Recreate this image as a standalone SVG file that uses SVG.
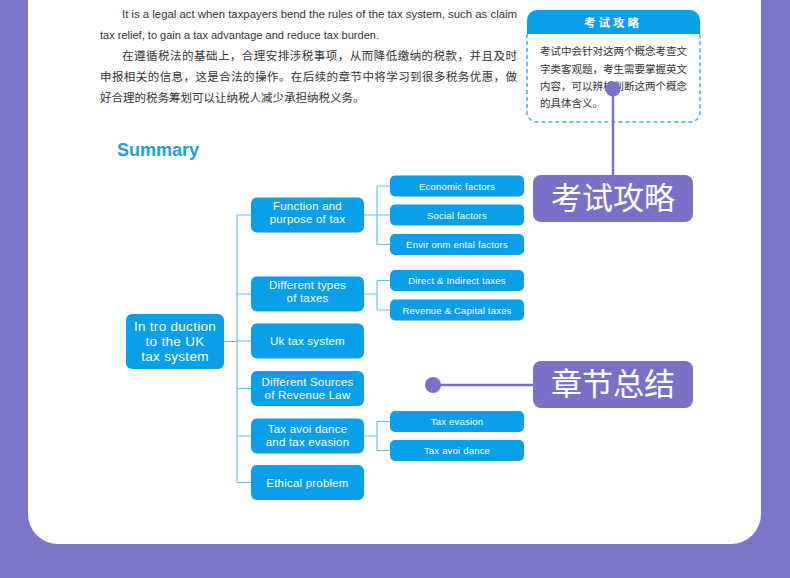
<svg xmlns="http://www.w3.org/2000/svg" width="790" height="578" viewBox="0 0 790 578">
<style>
.para{font-family:"Liberation Sans","Noto Sans CJK SC",sans-serif;font-size:11.5px;fill:#333}
.cn{font-family:"Noto Sans CJK SC",sans-serif;font-size:11.5px;fill:#333}
.l1{fill:#0AA0E9}
.t1{font-family:"Liberation Sans",sans-serif;font-size:11.5px;fill:#fff;text-anchor:middle;letter-spacing:0.2px}
.t2{font-family:"Liberation Sans",sans-serif;font-size:9.5px;fill:#fff;text-anchor:middle;letter-spacing:0.2px}
.conn{stroke:#5EC3F2;stroke-width:1.2;fill:none}
.pbox{fill:#7A70C8}
.ptext{font-family:"Noto Sans CJK SC",sans-serif;font-size:31px;font-weight:normal;fill:#fff;text-anchor:middle}
</style>
<rect x="0" y="0" width="790" height="578" fill="#7B76C9"/>
<rect x="28" y="-40" width="733" height="584" rx="30" fill="#fff"/>

<g id="paragraph">
<text class="para" x="122" y="18" textLength="395" lengthAdjust="spacingAndGlyphs">It is a legal act when taxpayers bend the rules of the tax system, such as claim</text>
<text class="para" x="100" y="39" textLength="279" lengthAdjust="spacingAndGlyphs">tax relief, to gain a tax advantage and reduce tax burden.</text>
<text class="cn" x="122" y="60" textLength="395">在遵循税法的基础上，合理安排涉税事项，从而降低缴纳的税款，并且及时</text>
<text class="cn" x="100" y="81" textLength="417">申报相关的信息，这是合法的操作。在后续的章节中将学习到很多税务优惠，做</text>
<text class="cn" x="100" y="102">好合理的税务筹划可以让纳税人减少承担纳税义务。</text>
</g>

<g id="callout">
<path d="M527,34 V112 a10,10 0 0 0 10,10 H690 a10,10 0 0 0 10,-10 V34" fill="#fff" stroke="#3BB0E8" stroke-width="1.5" stroke-dasharray="4,3"/>
<path d="M527,34 V20 a10,10 0 0 1 10,-10 H690 a10,10 0 0 1 10,10 V34 Z" fill="#0AA0E9"/>
<text x="613" y="27" font-family="Noto Sans CJK SC,sans-serif" font-size="11.5" font-weight="bold" fill="#fff" text-anchor="middle" letter-spacing="3">考试攻略</text>
<g font-family="Noto Sans CJK SC,sans-serif" font-size="10.5" fill="#333">
<text x="540" y="55" textLength="147">考试中会针对这两个概念考查文</text>
<text x="540" y="73" textLength="147">字类客观题，考生需要掌握英文</text>
<text x="540" y="90" textLength="147">内容，可以辨析判断这两个概念</text>
<text x="540" y="107">的具体含义。</text>
</g>
</g>

<g id="label-kaoshi">
<line x1="613" y1="89" x2="613" y2="176" stroke="#7A70C8" stroke-width="2.5"/>
<circle cx="613" cy="89" r="7.5" fill="#7A70C8"/>
<rect class="pbox" x="533" y="175" width="160" height="47" rx="8"/>
<text class="ptext" x="613" y="209">考试攻略</text>
</g>

<g id="label-zhangjie">
<line x1="433" y1="385" x2="534" y2="385" stroke="#7A70C8" stroke-width="2.5"/>
<circle cx="433" cy="385" r="8" fill="#7A70C8"/>
<rect class="pbox" x="533" y="361" width="160" height="47" rx="8"/>
<text class="ptext" x="613" y="395">章节总结</text>
</g>

<text x="117" y="156" font-family="Liberation Sans,sans-serif" font-size="18" font-weight="bold" fill="#1A9FE6">Summary</text>

<g id="connectors">
<path class="conn" d="M224,341.5 H237 M237,215 V482.5 M237,215 H251 M237,294 H251 M237,341 H251 M237,388.5 H251 M237,436 H251 M237,482.5 H251"/>
<path class="conn" d="M364,215 H377 M377,186 V244.5 M377,186 H390 M377,215 H390 M377,244.5 H390"/>
<path class="conn" d="M364,294 H377 M377,280.5 V310 M377,280.5 H390 M377,310 H390"/>
<path class="conn" d="M364,436 H377 M377,421.5 V450.5 M377,421.5 H390 M377,450.5 H390"/>
</g>

<g id="root">
<rect class="l1" x="126" y="314" width="98" height="55" rx="6"/>
<text x="175" y="331" font-family="Liberation Sans,sans-serif" font-size="13.5" fill="#fff" text-anchor="middle" letter-spacing="0.3">In tro duction</text>
<text x="175" y="346" font-family="Liberation Sans,sans-serif" font-size="13.5" fill="#fff" text-anchor="middle" letter-spacing="0.3">to the UK</text>
<text x="175" y="361" font-family="Liberation Sans,sans-serif" font-size="13.5" fill="#fff" text-anchor="middle" letter-spacing="0.3">tax system</text>
</g>

<g id="n-function">
<rect class="l1" x="251" y="197.5" width="113" height="35" rx="6"/>
<text class="t1" x="307.5" y="210">Function and</text>
<text class="t1" x="307.5" y="223">purpose of tax</text>
</g>
<g id="n-types">
<rect class="l1" x="251" y="276.5" width="113" height="35" rx="6"/>
<text class="t1" x="307.5" y="289">Different types</text>
<text class="t1" x="307.5" y="302">of taxes</text>
</g>
<g id="n-uk">
<rect class="l1" x="251" y="323.5" width="113" height="35" rx="6"/>
<text class="t1" x="307.5" y="345">Uk tax system</text>
</g>
<g id="n-sources">
<rect class="l1" x="251" y="371" width="113" height="35" rx="6"/>
<text class="t1" x="307.5" y="386">Different Sources</text>
<text class="t1" x="307.5" y="399">of  Revenue Law</text>
</g>
<g id="n-avoid">
<rect class="l1" x="251" y="418.5" width="113" height="35" rx="6"/>
<text class="t1" x="307.5" y="433">Tax avoi dance</text>
<text class="t1" x="307.5" y="446">and tax evasion</text>
</g>
<g id="n-ethical">
<rect class="l1" x="251" y="465" width="113" height="35" rx="6"/>
<text class="t1" x="307.5" y="487">Ethical problem</text>
</g>

<g id="s-economic">
<rect class="l1" x="390" y="175.5" width="134" height="21" rx="5"/>
<text class="t2" x="457" y="189.5">Economic factors</text>
</g>
<g id="s-social">
<rect class="l1" x="390" y="204.5" width="134" height="21" rx="5"/>
<text class="t2" x="457" y="218.5">Social factors</text>
</g>
<g id="s-env">
<rect class="l1" x="390" y="234" width="134" height="21" rx="5"/>
<text class="t2" x="457" y="248">Envir onm ental factors</text>
</g>
<g id="s-direct">
<rect class="l1" x="390" y="270" width="134" height="21" rx="5"/>
<text class="t2" x="457" y="284">Direct &amp; Indirect taxes</text>
</g>
<g id="s-revenue">
<rect class="l1" x="390" y="299.5" width="134" height="21" rx="5"/>
<text class="t2" x="457" y="313.5">Revenue &amp; Capital taxes</text>
</g>
<g id="s-evasion">
<rect class="l1" x="390" y="411" width="134" height="21" rx="5"/>
<text class="t2" x="457" y="425">Tax evasion</text>
</g>
<g id="s-avoidance">
<rect class="l1" x="390" y="440" width="134" height="21" rx="5"/>
<text class="t2" x="457" y="454">Tax avoi dance</text>
</g>
</svg>
